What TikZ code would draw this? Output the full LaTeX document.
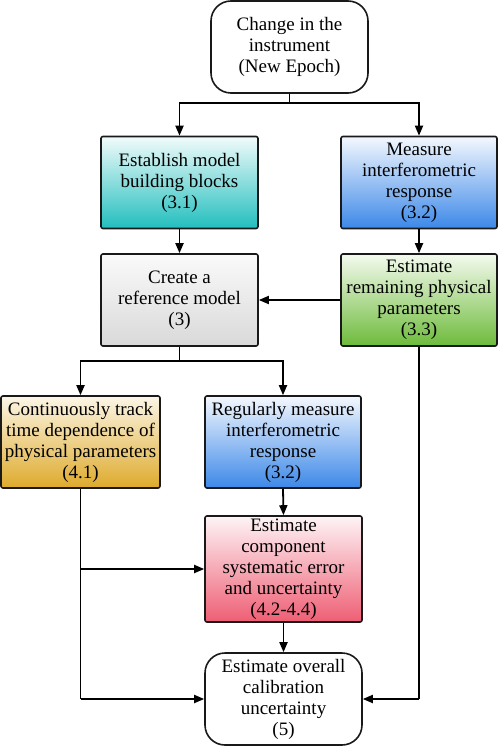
\documentclass[tikz,border=0pt]{standalone}
\usepackage{fontspec}
\setmainfont{Liberation Serif}
\usetikzlibrary{arrows.meta}
\definecolor{cyanB}{HTML}{22BEBE}
\definecolor{cyanT}{HTML}{F2FBFB}
\definecolor{blueB}{HTML}{3C88E8}
\definecolor{blueT}{HTML}{F4F8FE}
\definecolor{grayB}{HTML}{D9D9D9}
\definecolor{grayT}{HTML}{FAFAFA}
\definecolor{greenB}{HTML}{6DBB3A}
\definecolor{greenT}{HTML}{F4FAEF}
\definecolor{goldB}{HTML}{DEAA2C}
\definecolor{goldT}{HTML}{FCF6E6}
\definecolor{redB}{HTML}{EE5E74}
\definecolor{redT}{HTML}{FEF4F6}
\tikzset{
  box/.style={draw=black!90, line width=1.6pt, rounded corners=2pt,
    minimum width=157pt, minimum height=92pt, inner sep=0pt, align=center,
    font=\fontsize{19pt}{21pt}\selectfont},
  term/.style={box, rounded corners=20pt, fill=white},
  conn/.style={line width=1.8pt, black},
  arr/.style={conn, -{Triangle[length=10pt,width=8pt]}},
}
\begin{document}
\begin{tikzpicture}[x=1pt,y=-1pt]
\useasboundingbox (0,0) rectangle (498,746);
\node[term] (top) at (289.5,47) {Change in the\\instrument\\(New Epoch)};
\node[box, top color=cyanT, bottom color=cyanB] (b31) at (179.5,182.5) {Establish model\\building blocks\\(3.1)};
\node[box, top color=blueT, bottom color=blueB, minimum width=156pt] (b32) at (419,182.5) {Measure\\interferometric\\response\\(3.2)};
\node[box, top color=grayT, bottom color=grayB] (ref) at (179.5,300) {Create a\\reference model\\(3)};
\node[box, top color=greenT, bottom color=greenB, minimum width=156pt] (b33) at (419,300) {Estimate\\remaining physical\\parameters\\(3.3)};
\node[box, top color=goldT, bottom color=goldB, minimum width=159pt] (b41) at (80.5,442) {Continuously track\\time dependence of\\physical parameters\\(4.1)};
\node[box, top color=blueT, bottom color=blueB, minimum width=156pt] (b32b) at (283,442) {Regularly measure\\interferometric\\response\\(3.2)};
\node[box, top color=redT, bottom color=redB, minimum height=106pt] (red) at (283.5,569) {Estimate\\component\\systematic error\\and uncertainty\\(4.2-4.4)};
\node[term] (fin) at (283.5,699) {Estimate overall\\calibration\\uncertainty\\(5)};
\coordinate (s1) at (289.5,103);
\coordinate (s2) at (179.5,361);
\coordinate (j1) at (80.5,569);
\coordinate (c1) at (80.5,699);
\coordinate (c2) at (419,699);
\draw[conn] (top.south) -- (s1);
\draw[arr] (s1) -| (b31.north);
\draw[arr] (s1) -| (b32.north);
\draw[arr] (b31.south) -- (ref.north);
\draw[arr] (b32.south) -- (b33.north);
\draw[arr] (b33.west) -- (ref.east);
\draw[conn] (ref.south) -- (s2);
\draw[arr] (s2) -| (b41.north);
\draw[arr] (s2) -| (b32b.north);
\draw[arr] (b32b.south) -- (red.north);
\draw[arr] (red.south) -- (fin.north);
\draw[conn] (b41.south) -- (c1);
\draw[arr] (c1) -- (fin.west);
\draw[arr] (j1) -- (red.west);
\draw[conn] (b33.south) -- (c2);
\draw[arr] (c2) -- (fin.east);
\end{tikzpicture}
\end{document}
